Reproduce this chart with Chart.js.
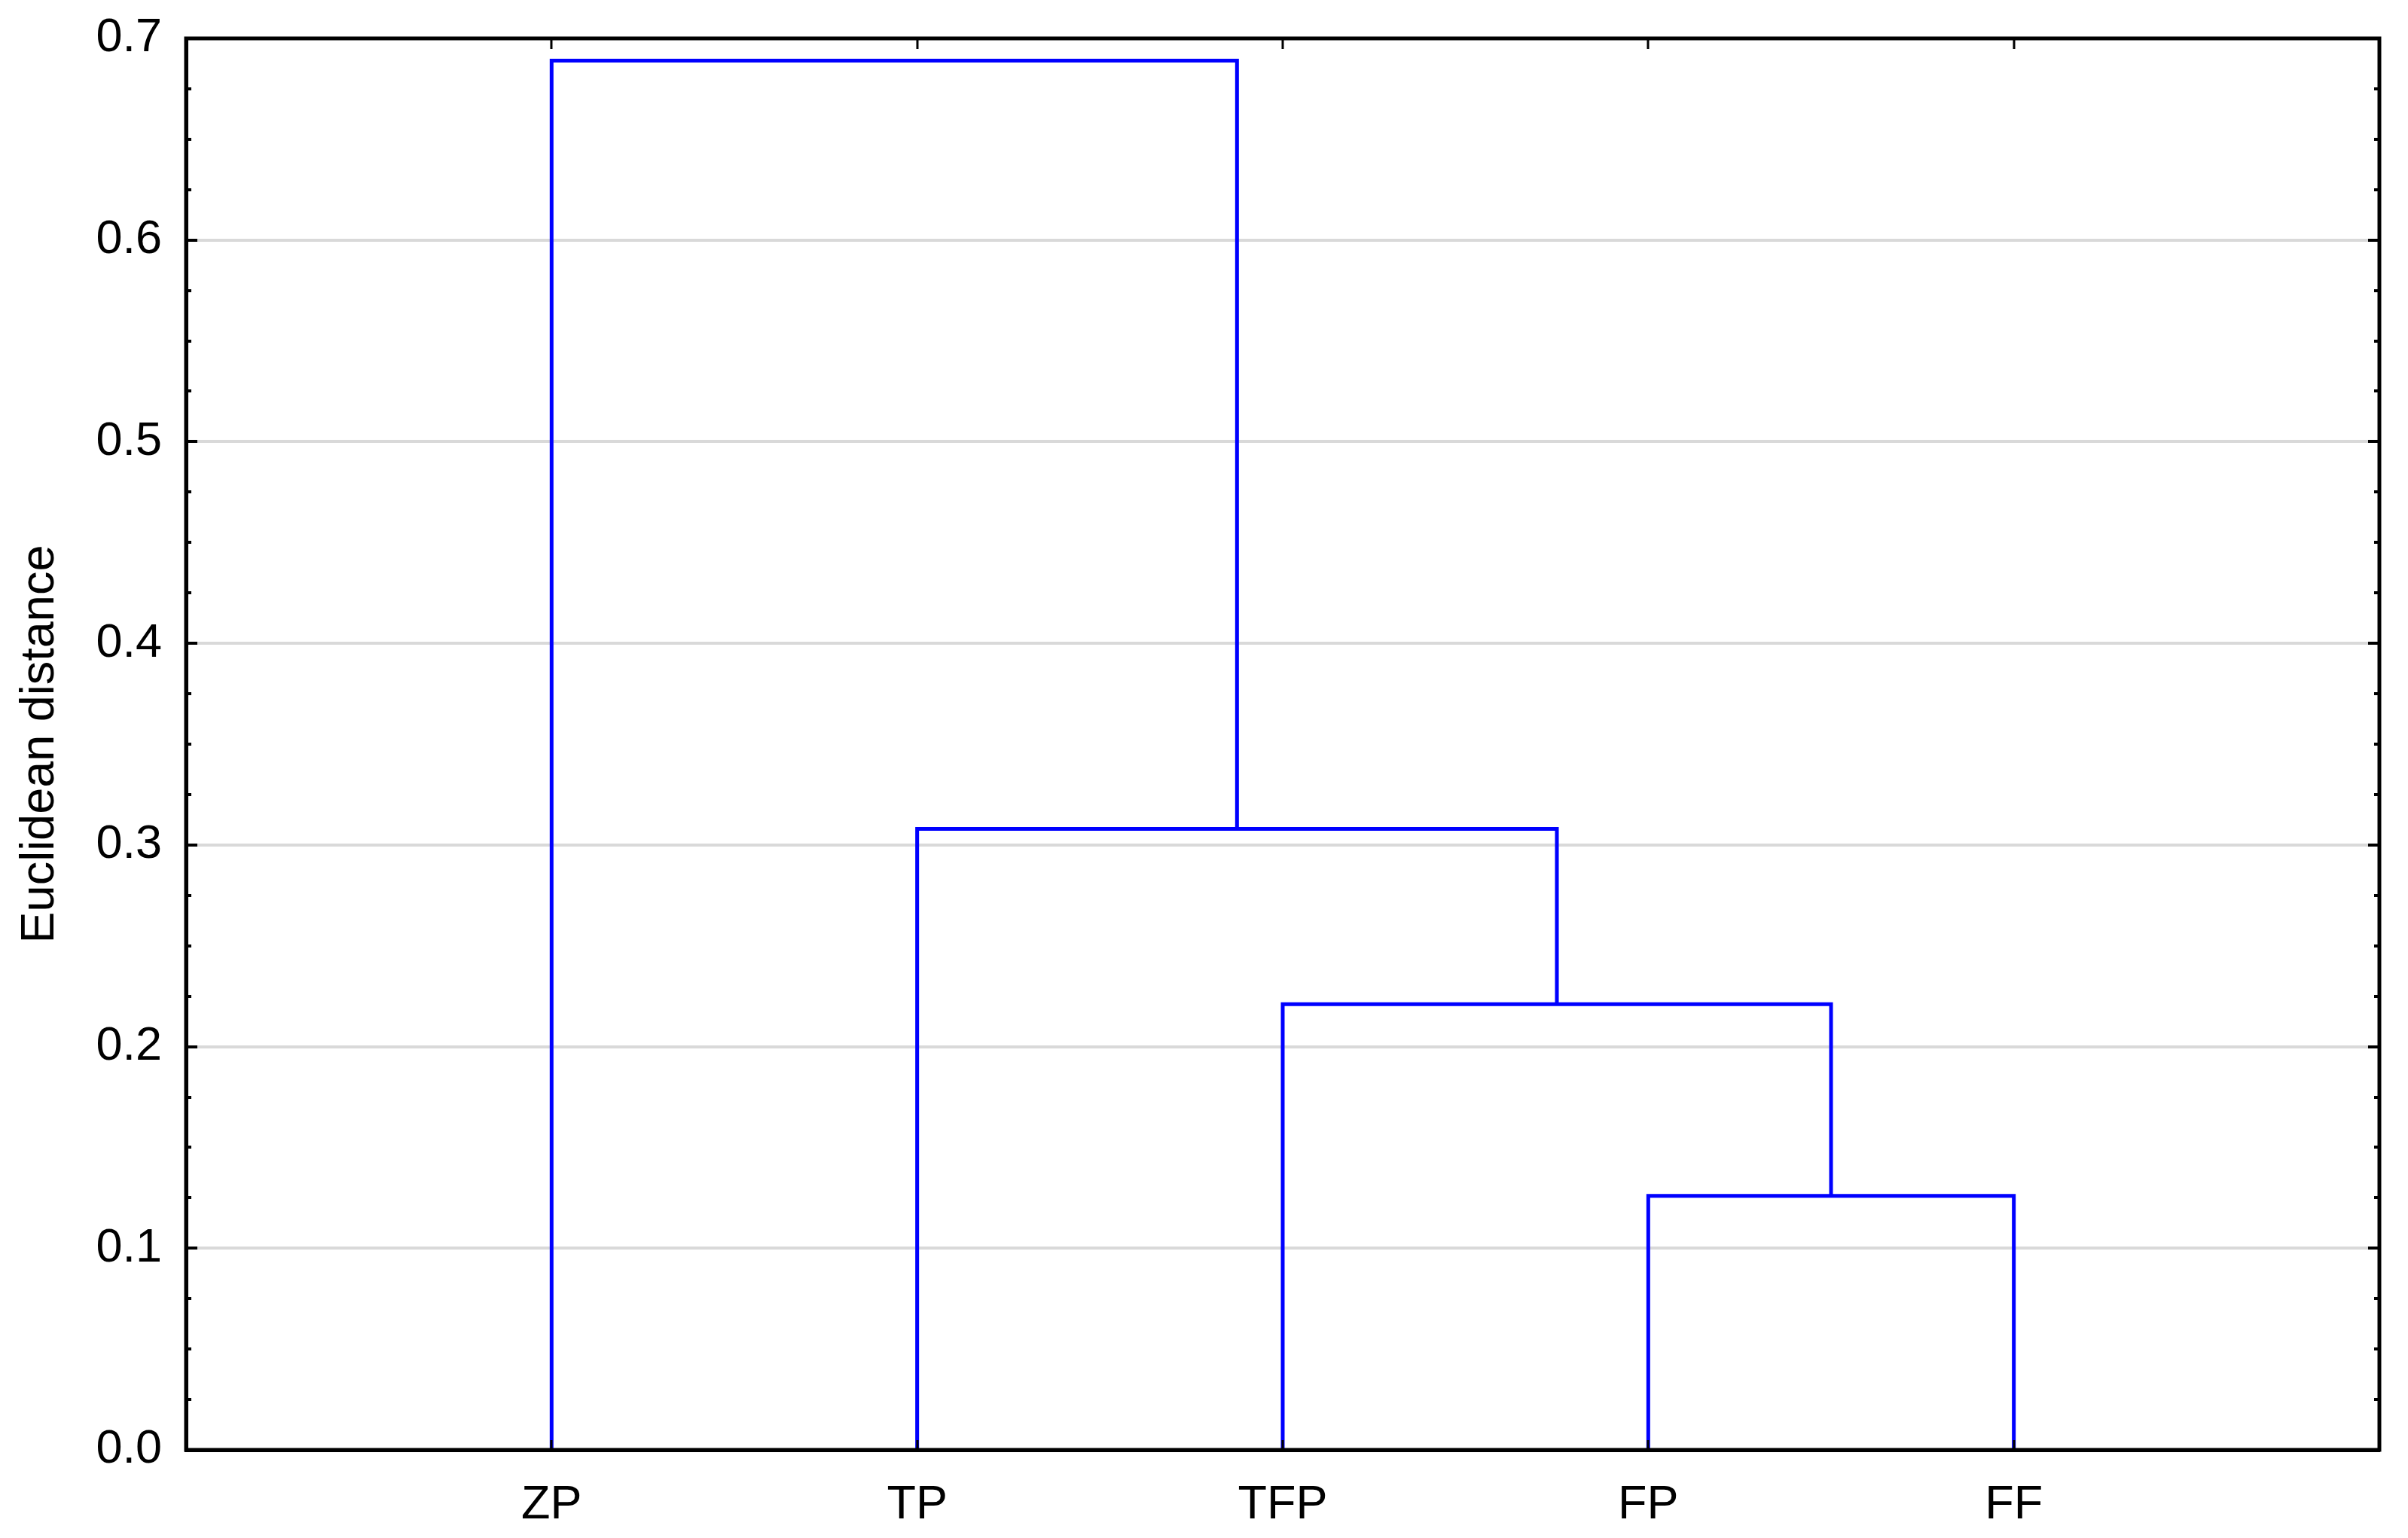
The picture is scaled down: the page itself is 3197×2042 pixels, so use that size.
<!DOCTYPE html>
<html>
<head>
<meta charset="utf-8">
<script src="https://cdn.jsdelivr.net/npm/chart.js@4"></script>
<style>
  html, body { margin: 0; padding: 0; background: #ffffff; }
  canvas { display: block; }
</style>
</head>
<body>
<canvas id="dendro" width="3197" height="2042"></canvas>
<script>
// leaves along the bottom, in drawing order
const leafLabels = ['ZP', 'TP', 'TFP', 'FP', 'FF'];
const leafPositions = [1, 2, 3, 4, 5];
// merges: ids 0-4 are leaves, id 5+k is the k-th merge
const mergeLeft = [3, 2, 1, 0];
const mergeRight = [4, 5, 6, 7];
const mergeHeight = [0.126, 0.221, 0.308, 0.689];
const yTickValues = [0, 0.1, 0.2, 0.3, 0.4, 0.5, 0.6, 0.7];

const FONT = "'Liberation Sans', Arial, sans-serif";
const BLUE = '#0000ff';

document.addEventListener('DOMContentLoaded', () => {
    // node positions from the tree (midpoint of children)
    const nodeX = leafPositions.slice();
    const nodeH = leafPositions.map(() => 0);
    const datasets = [];
    mergeHeight.forEach((h, k) => {
        const l = mergeLeft[k];
        const r = mergeRight[k];
        nodeX.push((nodeX[l] + nodeX[r]) / 2);
        nodeH.push(h);
        datasets.push({
            data: [
                { x: nodeX[l], y: nodeH[l] },
                { x: nodeX[l], y: h },
                { x: nodeX[r], y: h },
                { x: nodeX[r], y: nodeH[r] }
            ],
            showLine: true,
            borderColor: BLUE,
            borderWidth: 5,
            borderJoinStyle: 'miter',
            pointRadius: 0,
            fill: false,
            tension: 0,
            clip: false
        });
    });

    const framePlugin = {
        id: 'frame',
        afterDatasetsDraw(chart) {
            const ctx = chart.ctx;
            const { left, right, top, bottom } = chart.chartArea;
            const xs = chart.scales.x;
            const ys = chart.scales.y;
            ctx.save();
            ctx.strokeStyle = '#000000';
            ctx.lineWidth = 4;
            // minor/major ticks on left and right, pointing inward
            for (let i = 0; i <= 28; i++) {
                const py = Math.round(ys.getPixelForValue(i * 0.025));
                const len = i % 4 === 0 ? 15 : 7;
                ctx.beginPath();
                ctx.moveTo(left, py); ctx.lineTo(left + len, py);
                ctx.moveTo(right, py); ctx.lineTo(right - len, py);
                ctx.stroke();
            }
            // ticks at leaves on bottom and top
            ctx.lineWidth = 3;
            leafPositions.forEach(p => {
                const px = Math.round(xs.getPixelForValue(p));
                ctx.beginPath();
                ctx.moveTo(px, bottom); ctx.lineTo(px, bottom - 13);
                ctx.moveTo(px, top); ctx.lineTo(px, top + 14);
                ctx.stroke();
            });
            // frame
            ctx.lineWidth = 5;
            ctx.strokeRect(left, top, right - left, bottom - top);
            ctx.restore();
        }
    };

    new Chart(document.getElementById('dendro').getContext('2d'), {
        type: 'scatter',
        data: { datasets: datasets },
        plugins: [framePlugin],
        options: {
            responsive: false,
            animation: false,
            devicePixelRatio: 1,
            layout: { padding: { top: 51, right: 38, left: 0, bottom: 0 } },
            plugins: {
                legend: { display: false },
                tooltip: { enabled: false }
            },
            scales: {
                x: {
                    type: 'linear',
                    min: 0,
                    max: 6,
                    afterBuildTicks: axis => {
                        axis.ticks = leafPositions.map(v => ({ value: v }));
                    },
                    afterFit: axis => { axis.height = 117; },
                    ticks: {
                        autoSkip: false,
                        maxRotation: 0,
                        padding: 36,
                        color: '#000000',
                        font: { family: FONT, size: 63 },
                        callback: v => leafLabels[leafPositions.indexOf(v)] || ''
                    },
                    grid: { display: false, drawTicks: false },
                    border: { display: true, color: '#000000', width: 5 }
                },
                y: {
                    type: 'linear',
                    min: 0,
                    max: 0.7,
                    afterBuildTicks: axis => {
                        axis.ticks = yTickValues.map(v => ({ value: v }));
                    },
                    afterFit: axis => { axis.width = 247; },
                    ticks: {
                        padding: 32,
                        color: '#000000',
                        font: { family: FONT, size: 63, lineHeight: 0.5 },
                        callback: v => Number(v).toFixed(1)
                    },
                    grid: {
                        drawTicks: false,
                        lineWidth: 4,
                        color: c => (c.tick && (c.tick.value === 0 || c.tick.value === 0.7)) ? 'rgba(0,0,0,0)' : '#d9d9d9'
                    },
                    border: { display: true, color: '#000000', width: 5 },
                    title: {
                        display: true,
                        text: 'Euclidean distance',
                        color: '#000000',
                        font: { family: FONT, size: 63 },
                        padding: { top: 16, bottom: 0 }
                    }
                }
            }
        }
    });
});
</script>
</body>
</html>
